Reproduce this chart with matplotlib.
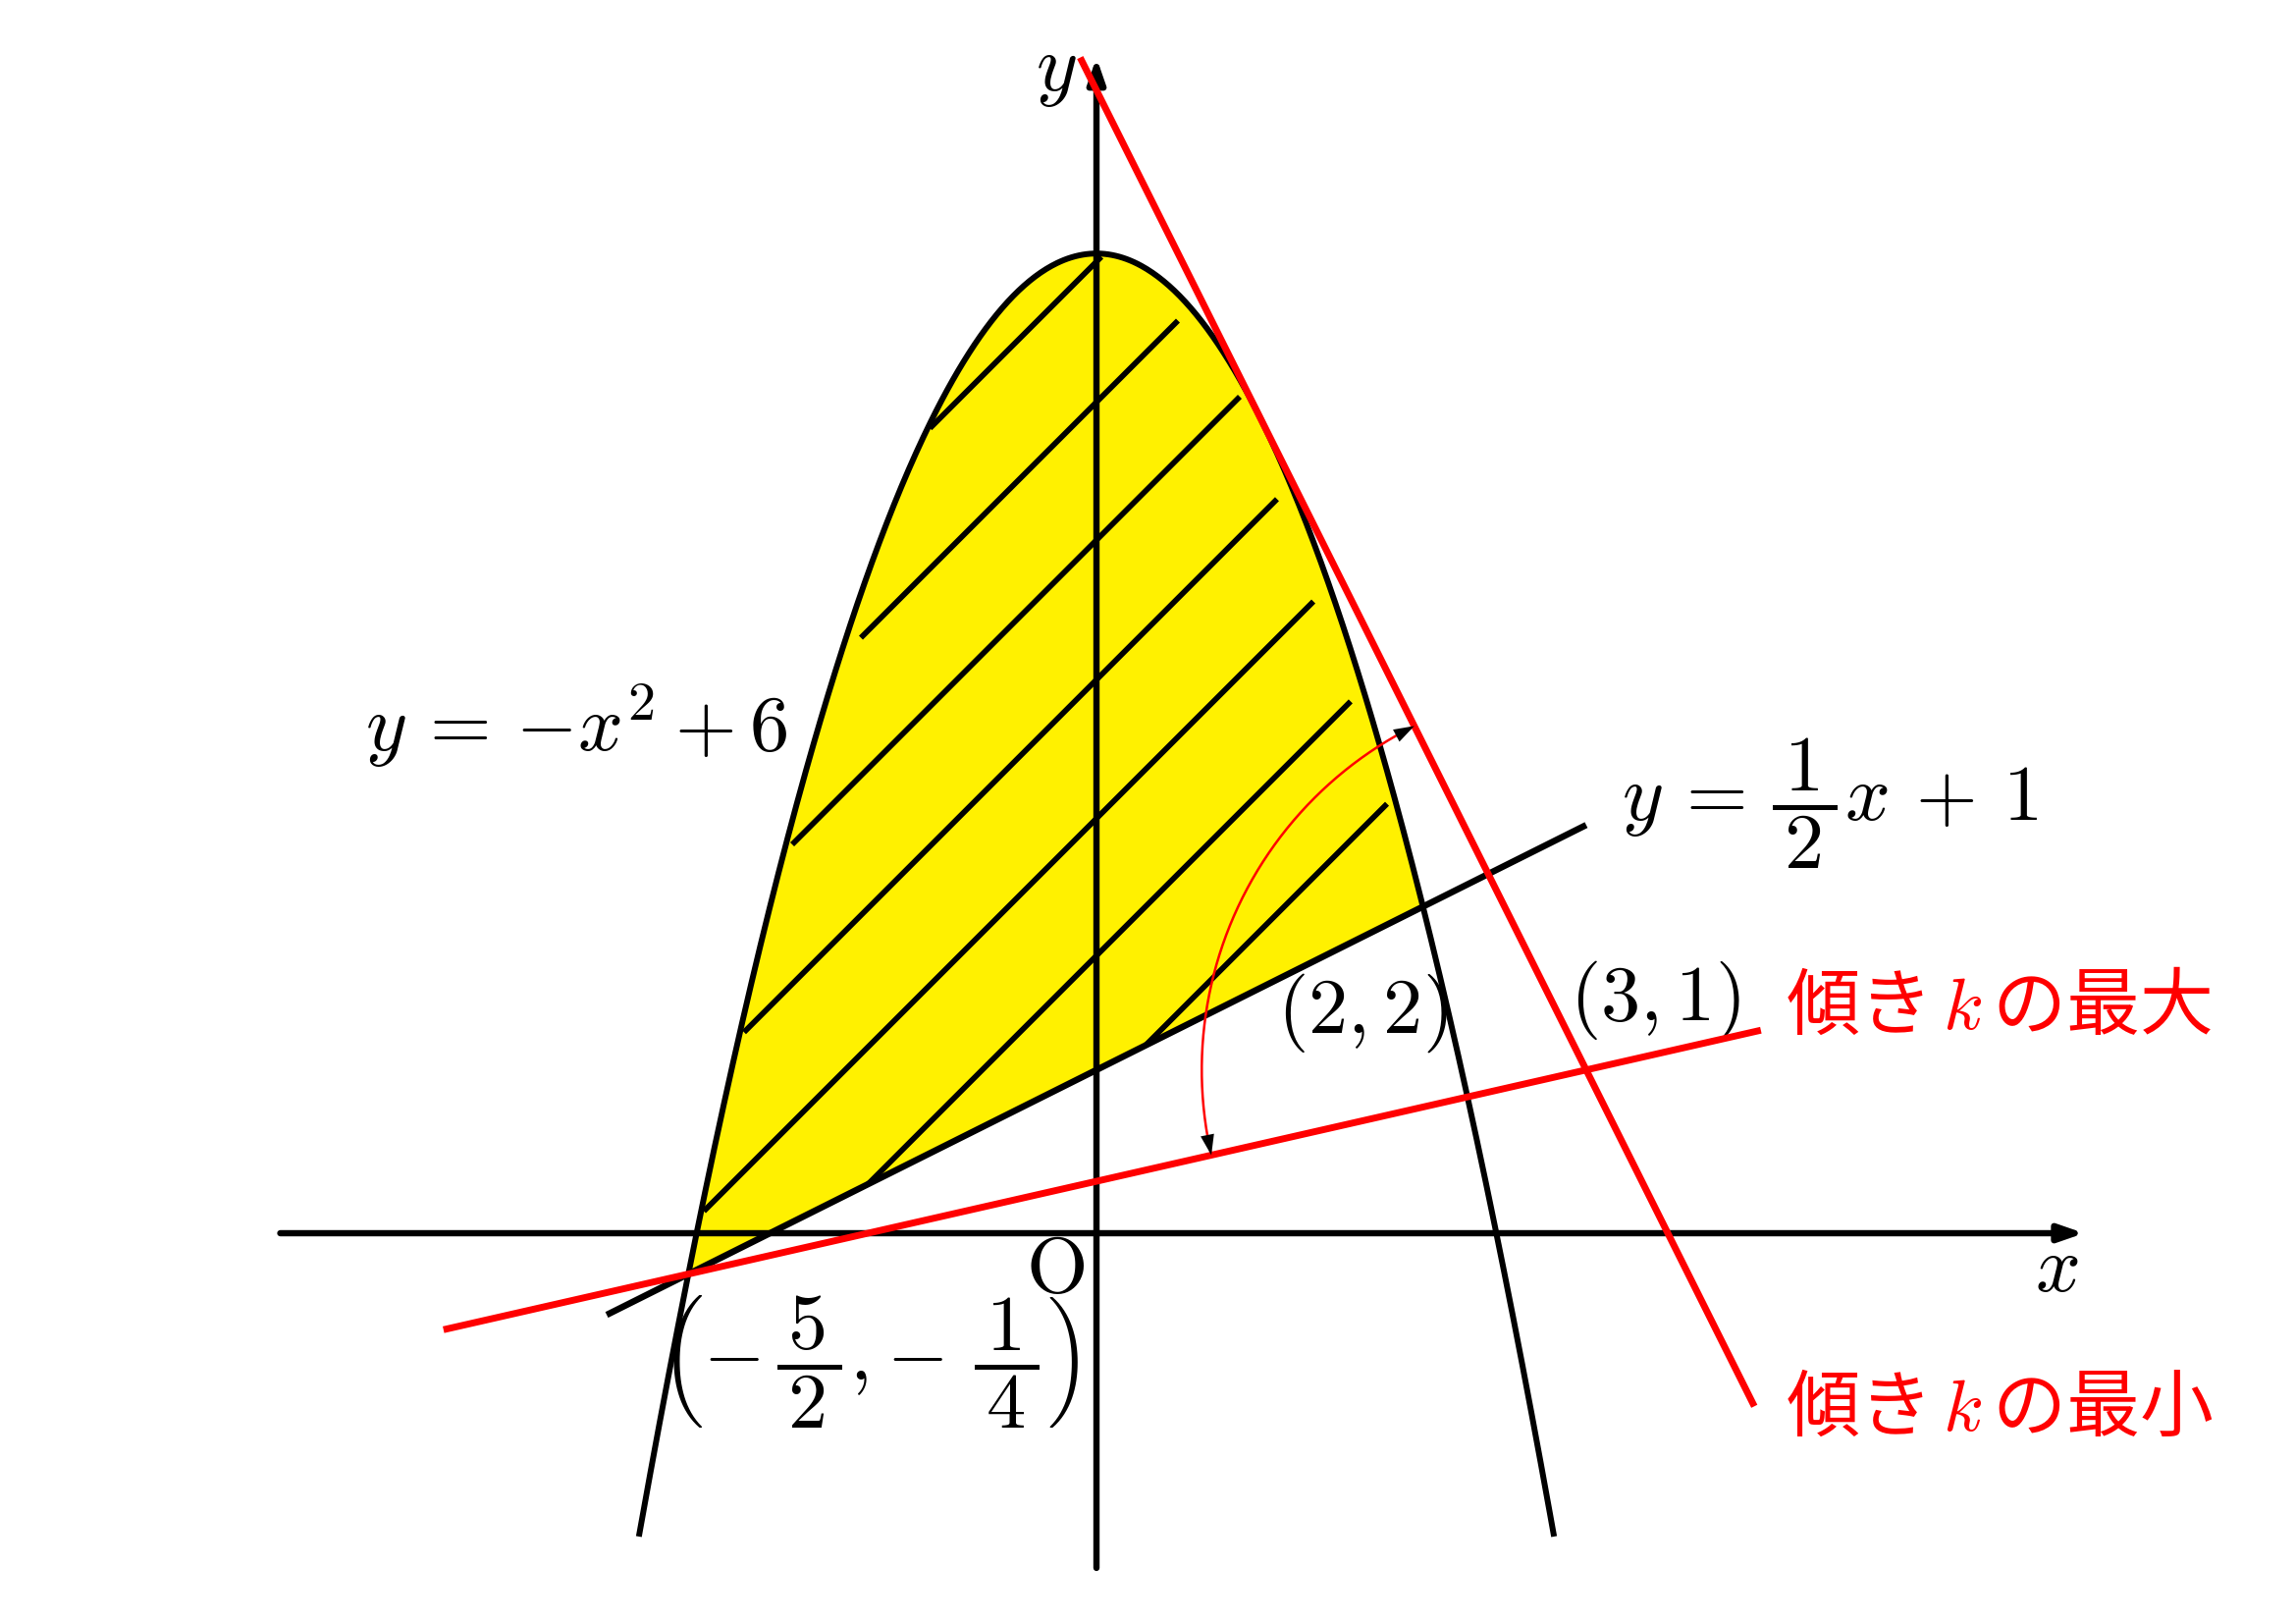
import numpy as np
import matplotlib.pyplot as plt

plt.rcParams['mathtext.fontset'] = 'cm'

# curves: parabola y = a x^2 + b, line y = m x + n
para_a, para_b = -1.0, 6.0
para_x = [-2.8, 2.8]
line_m, line_n = 0.5, 1.0
line_x = [-3.0, 3.0]

# region between curves
region_x = [-2.5, 2.0]

# red lines through (3, 1)
pivot = (3.0, 1.0)
red_slopes = [-2.0, 5.0 / 22.0]
red_x = [[-0.1, 4.03], [-4.0, 4.07]]

# hatch lines y = x + c, drawn from x_start to x_end
hatch_c = [0.85, 1.70, 2.54, 3.39, 4.245, 5.09, 5.95]
hatch_x_start = [0.30, -1.40, -2.405, -2.159, -1.864, -1.443, -1.02]
hatch_x_end = [1.78, 1.557, 1.329, 1.106, 0.878, 0.499, 0.03]

# axes extents
xaxis = [-5.0, 6.05]
yaxis = [-2.05, 7.2]

scale = 166.3  # px per unit
ox, oy = 1117, 1256
W, H = 2339, 1654

fig = plt.figure(figsize=(W / 100, H / 100), dpi=100)
ax = fig.add_axes([0, 0, 1, 1])
ax.set_xlim(-ox / scale, (W - ox) / scale)
ax.set_ylim(-(H - oy) / scale, oy / scale)
ax.axis('off')

# yellow region
xs = np.linspace(region_x[0], region_x[1], 400)
ax.fill_between(xs, line_m * xs + line_n, para_a * xs**2 + para_b,
                color='#FFF100', lw=0, zorder=1)

# hatch lines
for c, x0, x1 in zip(hatch_c, hatch_x_start, hatch_x_end):
    ax.plot([x0, x1], [x0 + c, x1 + c], color='black', lw=4.1,
            solid_capstyle='butt', zorder=2)

# parabola
xp = np.linspace(para_x[0], para_x[1], 500)
ax.plot(xp, para_a * xp**2 + para_b, color='black', lw=4.3, zorder=3)

# straight line
xl = np.array(line_x)
ax.plot(xl, line_m * xl + line_n, color='black', lw=4.7, zorder=3,
        solid_capstyle='butt')

# coordinate axes
arrow = dict(arrowstyle='-|>,head_length=0.75,head_width=0.26', color='black',
             lw=4.6, shrinkA=0, shrinkB=0, mutation_scale=20)
ax.annotate('', xy=(xaxis[1], 0), xytext=(xaxis[0], 0), arrowprops=arrow, zorder=4)
ax.annotate('', xy=(0, yaxis[1]), xytext=(0, yaxis[0]), arrowprops=arrow, zorder=4)

# red lines
for k, (x0, x1) in zip(red_slopes, red_x):
    xr = np.array([x0, x1])
    ax.plot(xr, k * (xr - pivot[0]) + pivot[1], color='red', lw=5.0,
            solid_capstyle='butt', zorder=5)

# arc with arrow heads
r = 2.355
a0 = np.degrees(np.arctan2(red_slopes[0], 1)) + 180
a1 = np.degrees(np.arctan(red_slopes[1])) + 180
t = np.radians(np.linspace(a0, a1, 200))
ax.plot(pivot[0] + r * np.cos(t), pivot[1] + r * np.sin(t), color='red', lw=1.8, zorder=6)
head = dict(arrowstyle='-|>,head_length=0.75,head_width=0.25', color='black',
            lw=0.01, shrinkA=0, shrinkB=0, mutation_scale=20)
for ta, tb in [(t[8], t[0]), (t[-9], t[-1])]:
    ax.annotate('', xy=(pivot[0] + r * np.cos(tb), pivot[1] + r * np.sin(tb)),
                xytext=(pivot[0] + r * np.cos(ta), pivot[1] + r * np.sin(ta)),
                arrowprops=head, zorder=7)

fs = 58
ax.text(-1.89, 3.11, r'$y\,=\,{-}x^2+6$', fontsize=fs, ha='right', va='center')
ax.text(3.22, 2.63, r'$y\,=\,\dfrac{\,1\,}{\,2\,}x\,+\,1$', fontsize=fs,
        ha='left', va='center')
ax.text(1.63, 1.35, r'$(2,2)$', fontsize=fs, ha='center', va='center')
ax.text(3.42, 1.43, r'$(3,1)$', fontsize=fs, ha='center', va='center')
ax.text(-1.39, -0.79, r'$\left(-\,\dfrac{\,5\,}{\,2\,},\!-\,\dfrac{\,1\,}{\,4\,}\right)$',
        fontsize=fs, ha='center', va='center')
ax.text(-0.25, -0.23, r'$\mathrm{O}$', fontsize=fs, ha='center', va='center')
ax.text(5.88, -0.22, r'$x$', fontsize=fs, ha='center', va='center')
ax.text(-0.25, 7.12, r'$y$', fontsize=fs, ha='center', va='center')

jp = ['Noto Sans CJK JP', 'DejaVu Sans']
ax.text(4.22, 1.38, r'傾き$\,k\,$の最大', fontsize=54, color='red', ha='left',
        va='center', family=jp)
ax.text(4.22, -1.08, r'傾き$\,k\,$の最小', fontsize=54, color='red', ha='left',
        va='center', family=jp)

fig.savefig('out.png', dpi=100)
